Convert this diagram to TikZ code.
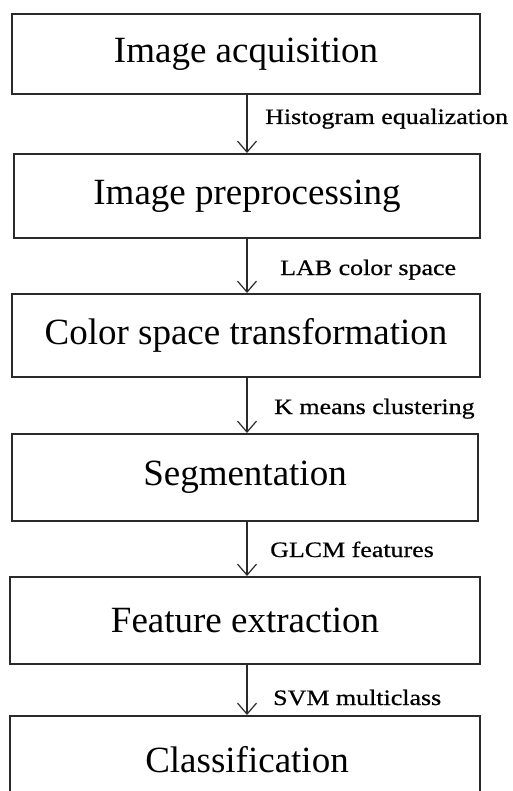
\documentclass[tikz,border=0pt]{standalone}
\usepackage{fontspec}
\setmainfont{Liberation Serif}
\newfontfamily\edgefont[FakeStretch=1.18,FakeBold=0.6]{Liberation Serif}
\usetikzlibrary{arrows.meta}
\definecolor{ink}{HTML}{2A2A2A}
\begin{document}
\begin{tikzpicture}[x=1pt,y=-1pt,
  stage/.style={draw=ink,line width=2pt,fill=white,inner sep=0pt,
    font=\fontsize{37}{40}\selectfont,text=black},
  flow/.style={draw=ink,line width=1.4pt,
    -{Straight Barb[length=11pt,width=19pt,line width=1.2pt]}},
  edgelabel/.style={anchor=base west,inner sep=0pt,
    font=\edgefont\fontsize{22}{24}\selectfont,text=black}]
\useasboundingbox (0,0) rectangle (512,791);
\begin{scope}
\clip (0,0) rectangle (512,791);
\node[stage,minimum width=468pt,minimum height=80pt] (s1) at (246,54) {Image acquisition};
\node[stage,minimum width=466pt,minimum height=84pt] (s2) at (247,196) {Image preprocessing};
\node[stage,minimum width=468pt,minimum height=83pt] (s3) at (246,335.5) {Color space transformation};
\node[stage,minimum width=466pt,minimum height=87pt] (s4) at (245,477.5) {Segmentation};
\node[stage,minimum width=470pt,minimum height=87pt] (s5) at (245,620.5) {Feature extraction};
\node[stage,minimum width=470pt,minimum height=96pt,text depth=0pt] (s6) at (245,764) {};
\node[font=\fontsize{37}{40}\selectfont] (s6t) at (247,760) {Classification};
\end{scope}
\draw[flow] (s1.south -| 247,0) -- (s2.north -| 247,0);
\draw[flow] (s2.south -| 247,0) -- (s3.north -| 247,0);
\draw[flow] (s3.south -| 247,0) -- (s4.north -| 247,0);
\draw[flow] (s4.south -| 247,0) -- (s5.north -| 247,0);
\draw[flow] (s5.south -| 247,0) -- (s6.north -| 247,0);
\node[edgelabel] (l1) at (265,124) {Histogram equalization};
\node[edgelabel] (l2) at (280,275) {LAB color space};
\node[edgelabel] (l3) at (274,414) {K means clustering};
\node[edgelabel] (l4) at (270,557) {GLCM features};
\node[edgelabel] (l5) at (273,705) {SVM multiclass};
\end{tikzpicture}
\end{document}
